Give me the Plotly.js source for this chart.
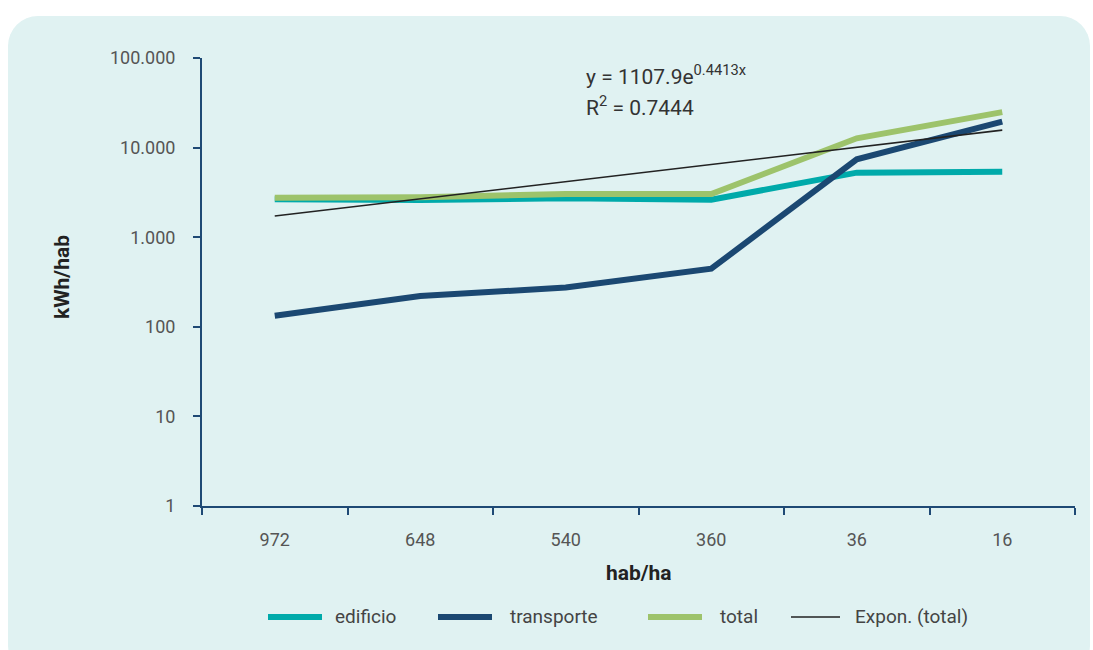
<!DOCTYPE html>
<html>
<head>
<meta charset="utf-8">
<script src="https://cdn.plot.ly/plotly-3.0.1.min.js"></script>
<style>
  html, body { margin:0; padding:0; background:#ffffff; }
  #panel { position:absolute; left:8px; top:16px; width:1082px; height:660px; border-radius:30px; background:#E0F2F2; }
  #chart { position:absolute; left:0; top:0; width:1093px; height:650px; }
</style>
</head>
<body>
<div id="panel"></div>
<div id="chart"></div>
<script>
const categories = ["972", "648", "540", "360", "36", "16"];
const edificio   = [2650, 2600, 2720, 2620, 5250, 5380];
const transporte = [133, 221, 274, 445, 7400, 19500];
const total      = [2760, 2800, 3030, 3030, 12700, 24900];
const exponTotal = [1723, 2679, 4165, 6476, 10069, 15655];
const yTickVals  = [1, 10, 100, 1000, 10000, 100000];
const yTickText  = ["1", "10", "100", "1.000", "10.000", "100.000"];
const seriesNames  = ["edificio", "transporte", "total", "Expon. (total)"];
const seriesColors = ["#00AAAA", "#1B4872", "#9DC36B", "#222222"];
const seriesWidths = [6, 6, 6, 1.6];

const FONT = "Roboto, 'DejaVu Sans', sans-serif";
const AXIS = "#1F4A75";

const seriesData = [edificio, transporte, total, exponTotal];
const traces = seriesData.map((vals, i) => ({
  x: categories, y: vals, name: seriesNames[i], mode: "lines",
  line: {color: seriesColors[i], width: seriesWidths[i]}
}));

// plot area in pixels (for placing custom legend / texts)
const PL = 202, PR = 1075, PT = 58, PB = 506;
const px = v => (v - PL) / (PR - PL);
const py = v => (PB - v) / (PB - PT);

// custom legend (long rounded swatches like the reference)
const legendLines = [[268, 322], [438, 492], [648, 702], [791, 840]];
const legendText  = [333, 508, 718, 853];
const legendY = 617;
const shapes = legendLines.map((p, i) => ({
  type: "line", xref: "paper", yref: "paper",
  x0: px(p[0]), x1: px(p[1]), y0: py(legendY), y1: py(legendY),
  line: {color: seriesColors[i], width: seriesWidths[i] === 6 ? 6 : 1.6}
}));
const legendAnn = legendText.map((x, i) => ({
  text: seriesNames[i], xref: "paper", yref: "paper", x: px(x), y: py(legendY - 1),
  xanchor: "left", yanchor: "middle", showarrow: false,
  font: {family: FONT, size: 19, color: "#444444"}
}));

const layout = {
  width: 1093, height: 650,
  paper_bgcolor: "rgba(0,0,0,0)", plot_bgcolor: "rgba(0,0,0,0)",
  margin: {l: PL, r: 1093 - PR, t: PT, b: 650 - PB},
  font: {family: FONT, color: "#555555", size: 17},
  showlegend: false,
  xaxis: {type: "category", range: [-0.5, 5.5], showgrid: false, zeroline: false,
          showline: true, linecolor: AXIS, linewidth: 2,
          ticks: "outside", ticklen: 7, tickwidth: 2, tickcolor: AXIS, tickson: "boundaries",
          ticklabelstandoff: 16, tickfont: {family: FONT, size: 18, color: "#555555"}},
  yaxis: {type: "log", range: [0, 5], showgrid: false, zeroline: false,
          showline: true, linecolor: AXIS, linewidth: 2,
          ticks: "outside", ticklen: 7, tickwidth: 2, tickcolor: AXIS,
          tickvals: yTickVals, ticktext: yTickText, ticklabelstandoff: 14,
          tickfont: {family: FONT, size: 18, color: "#555555"}},
  shapes: shapes,
  annotations: [
    {text: "<b>kWh/hab</b>", xref: "paper", yref: "paper", x: px(62), y: py(277),
     textangle: -90, showarrow: false, xanchor: "center", yanchor: "middle",
     font: {family: FONT, size: 21, color: "#222222"}},
    {text: "<b>hab/ha</b>", xref: "paper", yref: "paper", x: px(639), y: py(573),
     showarrow: false, xanchor: "center", yanchor: "middle",
     font: {family: FONT, size: 21, color: "#222222"}},
    {text: "y = 1107.9e<sup>0.4413x</sup>", xref: "paper", yref: "paper",
     x: px(584), y: py(75), showarrow: false,
     xanchor: "left", yanchor: "middle", font: {family: FONT, size: 21, color: "#333333"}},
    {text: "R<sup>2</sup> = 0.7444", xref: "paper", yref: "paper",
     x: px(584), y: py(106), showarrow: false,
     xanchor: "left", yanchor: "middle", font: {family: FONT, size: 21, color: "#333333"}}
  ].concat(legendAnn)
};

Plotly.newPlot("chart", traces, layout, {displayModeBar: false, staticPlot: true});
</script>
</body>
</html>
